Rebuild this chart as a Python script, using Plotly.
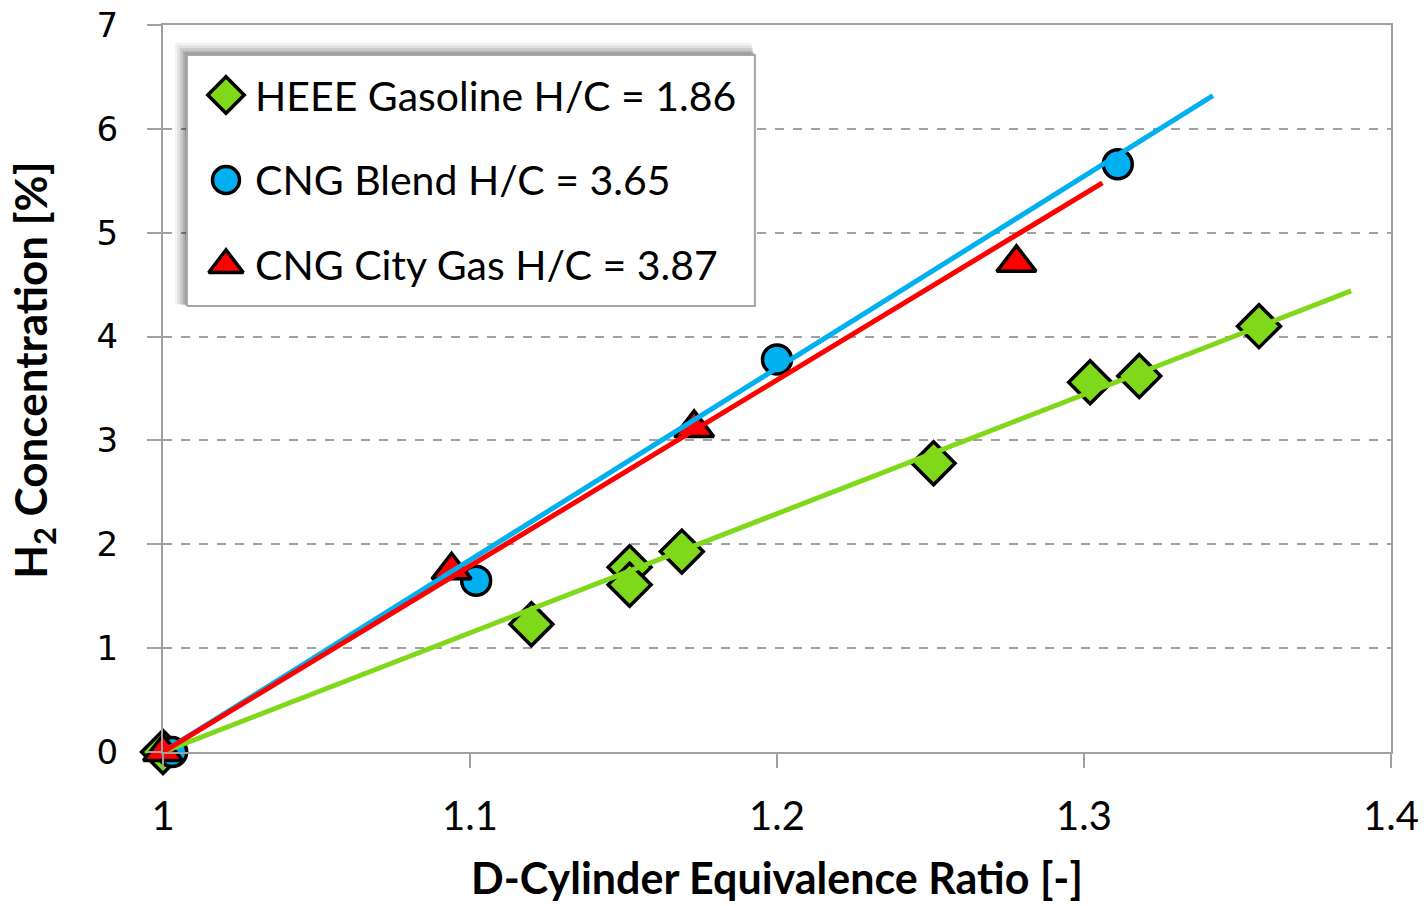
import plotly.graph_objects as go

# ---- data ----
gas_x = [1.000, 1.120, 1.152, 1.152, 1.169, 1.251, 1.302, 1.318, 1.357]
gas_y = [0.0, 1.23, 1.78, 1.61, 1.93, 2.78, 3.56, 3.62, 4.10]
blend_x = [1.003, 1.102, 1.200, 1.311]
blend_y = [0.0, 1.65, 3.78, 5.66]
city_x = [1.000, 1.094, 1.173, 1.278]
city_y = [0.0, 1.75, 3.12, 4.71]

gas_fit_x = [1.0, 1.387]
gas_fit_y = [0.0, 4.44]
blend_fit_x = [1.0, 1.342]
blend_fit_y = [0.0, 6.32]
city_fit_x = [1.0, 1.306]
city_fit_y = [0.0, 5.48]

legend_names = ["HEEE Gasoline H/C = 1.86", "CNG Blend H/C = 3.65", "CNG City Gas H/C = 3.87"]

GREEN = "#80D81A"
BLUE = "#00B0F0"
RED = "#FF0000"
FONT = "Lato, Carlito, Calibri, sans-serif"

fig = go.Figure()

mk_line = dict(color="black", width=3.5)
fig.add_trace(go.Scatter(x=gas_x, y=gas_y, mode="markers", name=legend_names[0],
                         marker=dict(symbol="diamond", size=33, color=GREEN, line=mk_line), showlegend=False, cliponaxis=False))
fig.add_trace(go.Scatter(x=blend_x, y=blend_y, mode="markers", name=legend_names[1],
                         marker=dict(symbol="circle", size=29, color=BLUE, line=mk_line), showlegend=False, cliponaxis=False))
fig.add_trace(go.Scatter(x=city_x, y=city_y, mode="markers", name=legend_names[2],
                         marker=dict(symbol="triangle-up", size=34, color=RED, line=mk_line), showlegend=False, cliponaxis=False))

# trend lines (drawn over the markers, as in the reference)
fig.add_trace(go.Scatter(x=gas_fit_x, y=gas_fit_y, mode="lines", line=dict(color=GREEN, width=5), showlegend=False, hoverinfo="skip"))
fig.add_trace(go.Scatter(x=blend_fit_x, y=blend_fit_y, mode="lines", line=dict(color=BLUE, width=5), showlegend=False, hoverinfo="skip"))
fig.add_trace(go.Scatter(x=city_fit_x, y=city_fit_y, mode="lines", line=dict(color=RED, width=5), showlegend=False, hoverinfo="skip"))

# ---- manual legend (drawn on an overlay axis pair spanning the plot area, 0..1) ----
lx0, lx1, ly0, ly1 = 0.0195, 0.482, 0.6135, 0.9587

def rect_xy(a0, a1, b0, b1):
    return [a0, a1, a1, a0, a0], [b0, b0, b1, b1, b0]

for d, op in [(0.014, 0.05), (0.011, 0.07), (0.008, 0.09), (0.005, 0.12), (0.0025, 0.15)]:
    rx, ry = rect_xy(lx0 - d * 0.7, lx1 - d * 0.2, ly0 + d * 0.2, ly1 + d * 1.2)
    fig.add_trace(go.Scatter(x=rx, y=ry, xaxis="x2", yaxis="y2", mode="lines", fill="toself",
                             fillcolor=f"rgba(0,0,0,{op})", line=dict(width=0, color="rgba(0,0,0,0)"),
                             showlegend=False, hoverinfo="skip"))
rx, ry = rect_xy(lx0, lx1, ly0, ly1)
fig.add_trace(go.Scatter(x=rx, y=ry, xaxis="x2", yaxis="y2", mode="lines", fill="toself",
                         fillcolor="white", line=dict(width=2, color="#A6A6A6"),
                         showlegend=False, hoverinfo="skip"))

leg_y = [0.9037, 0.7868, 0.6699]
leg_sym = ["diamond", "circle", "triangle-up"]
leg_col = [GREEN, BLUE, RED]
leg_size = [28, 27, 30]
for i in range(3):
    fig.add_trace(go.Scatter(x=[0.0513], y=[leg_y[i]], xaxis="x2", yaxis="y2", mode="markers",
                             marker=dict(symbol=leg_sym[i], size=leg_size[i], color=leg_col[i], line=mk_line),
                             showlegend=False, hoverinfo="skip"))
    fig.add_annotation(x=0.0733, y=leg_y[i], xref="paper", yref="paper", text=legend_names[i],
                       showarrow=False, xanchor="left", yanchor="middle",
                       font=dict(family=FONT, size=41, color="black"))

# y-axis title as rotated annotation (positioned like the reference)
fig.add_annotation(x=-0.106, y=0.5254, xref="paper", yref="paper", text="<b>H<sub>2</sub> Concentration [%]</b>",
                   textangle=-90, showarrow=False, xanchor="center", yanchor="middle",
                   font=dict(family=FONT, size=44, color="black"))

axis_col = "#A0A0A0"
fig.update_layout(
    width=1426, height=906,
    margin=dict(l=163, r=35, t=25, b=154),
    paper_bgcolor="white", plot_bgcolor="white",
    showlegend=False,
    xaxis=dict(range=[1.0, 1.4], tickvals=[1.0, 1.1, 1.2, 1.3, 1.4], ticktext=["1", "1.1", "1.2", "1.3", "1.4"],
               automargin=False,
               showgrid=False, zeroline=False, showline=True, linecolor=axis_col, linewidth=2, mirror=True,
               ticks="outside", ticklen=14, tickwidth=2, tickcolor=axis_col,
               tickfont=dict(family=FONT, size=40, color="black"), ticklabelstandoff=14,
               title=dict(text="<b>D-Cylinder Equivalence Ratio [-]</b>", font=dict(family=FONT, size=43, color="black"), standoff=26)),
    yaxis=dict(range=[0, 7], tickvals=[0, 1, 2, 3, 4, 5, 6, 7],
               automargin=False,
               showgrid=True, gridcolor="#A0A0A0", gridwidth=1.5, griddash="dash",
               zeroline=False, showline=True, linecolor=axis_col, linewidth=2, mirror=True,
               ticks="outside", ticklen=14, tickwidth=2, tickcolor=axis_col,
               tickfont=dict(family="DejaVu Sans, Verdana, sans-serif", size=34, color="black"), ticklabelstandoff=22),
    xaxis2=dict(range=[0, 1], overlaying="x", visible=False, fixedrange=True),
    yaxis2=dict(range=[0, 1], overlaying="y", visible=False, fixedrange=True),
)

fig.write_html("out.html")
